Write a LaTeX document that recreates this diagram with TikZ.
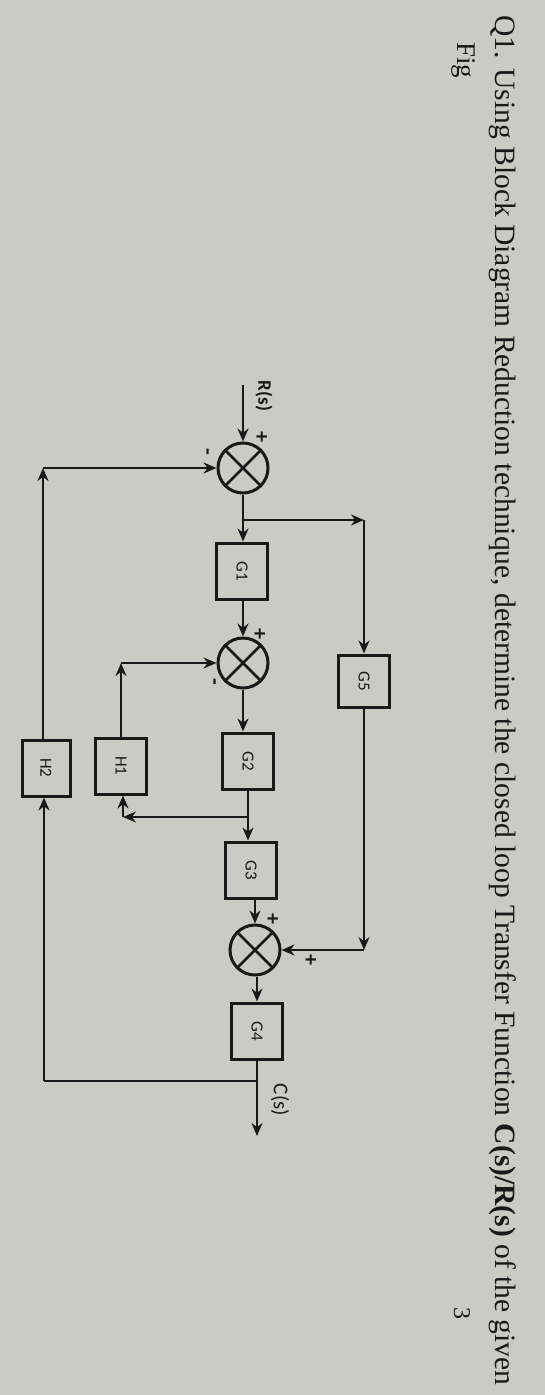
\documentclass[tikz,border=0pt]{standalone}
\usepackage{fontspec}
\setmainfont{Liberation Serif}
\newfontfamily\lblfont{Carlito}
\usetikzlibrary{arrows.meta}
\definecolor{paper}{RGB}{203,203,198}
\definecolor{ink}{RGB}{25,25,25}
\newcommand\rotlbl[1]{\rotatebox[origin=c]{-90}{#1}}
\begin{document}
\begin{tikzpicture}[x=1pt,y=-1pt,
  blk/.style={draw=ink,line width=3pt,minimum width=51pt,minimum height=56pt,inner sep=0pt,font=\lblfont\fontsize{17}{17}\selectfont,text=ink},
  sumj/.style={draw=ink,circle,line width=3pt,minimum size=50pt,inner sep=0pt},
  conn/.style={draw=ink,line width=2.8pt},
  arr/.style={conn,-{Stealth[length=13pt,width=11pt]}},
  sgn/.style={font=\lblfont\bfseries\fontsize{22}{22}\selectfont,text=ink,inner sep=0pt},
  sig/.style={font=\lblfont\bfseries\fontsize{19}{19}\selectfont,text=ink,inner sep=0pt},
  qtext/.style={rotate=-90,anchor=base west,inner sep=0pt,text=ink}]
\fill[paper] (0,0) rectangle (545,1395);
\useasboundingbox (0,0) rectangle (545,1395);
% question text
\node[qtext] (q) at (495,15) {\resizebox{1370pt}{!}{Q1. Using Block Diagram Reduction technique, determine the closed loop Transfer Function \textbf{C(s)/R(s)} of the given}};
\node[qtext] (fig) at (457,42) {\fontsize{27}{27}\selectfont Fig};
\node[rotate=-90,inner sep=0pt,text=ink] (three) at (462,1313) {\fontsize{24}{24}\selectfont 3};
% blocks
\node[sumj] (s1) at (243,468) {};
\node[blk] (G1) at (242,571) {\rotlbl{G1}};
\node[sumj] (s2) at (243,663) {};
\node[blk] (G2) at (248,761) {\rotlbl{G2}};
\node[blk] (G3) at (251,870) {\rotlbl{G3}};
\node[sumj] (s3) at (255,950) {};
\node[blk] (G4) at (257,1031) {\rotlbl{G4}};
\node[blk,minimum height=52pt] (G5) at (364,681) {\rotlbl{G5}};
\node[blk] (H1) at (121,766) {\rotlbl{H1}};
\node[blk,minimum width=48pt] (H2) at (46,768) {\rotlbl{H2}};
\foreach \s in {s1,s2,s3} {
  \draw[conn] (\s.north west) -- (\s.south east);
  \draw[conn] (\s.north east) -- (\s.south west);
}
% signs
\node[sgn] (p1) at (261,437) {\rotlbl{+}};
\node[sgn] (m1) at (205,452) {\rotlbl{-}};
\node[sgn] (p2) at (259,634) {\rotlbl{+}};
\node[sgn] (m2) at (212,682) {\rotlbl{-}};
\node[sgn] (p3) at (272,919) {\rotlbl{+}};
\node[sgn] (p4) at (310,960) {\rotlbl{+}};
% signal labels
\node[sig] (Rl) at (264,396) {\rotlbl{R(s)}};
\node[sig,font=\lblfont\fontsize{21}{21}\selectfont] (Cl) at (280,1100) {\rotlbl{C(s)}};
% coordinates
\coordinate (rin) at (243,385);
\coordinate (b1) at (243,520);
\coordinate (c5) at (364,520);
\coordinate (c5b) at (364,950);
\coordinate (b2) at (248,817);
\coordinate (ch1b) at (123,817);
\coordinate (ch1t) at (121,663);
\coordinate (b3) at (257,1081);
\coordinate (cout) at (257,1136);
\coordinate (ch2b) at (44,1081);
\coordinate (ch2t) at (43,468);
% connectors
\draw[arr] (rin) -- (s1.north);
\draw[arr] (s1.south) -- (s1.south |- G1.north);
\draw[arr] (b1) -- (c5);
\draw[arr] (c5) -- (G5.north);
\draw[arr] (G1.south -| s2.north) -- (s2.north);
\draw[arr] (s2.south) -- (s2.south |- G2.north);
\draw[arr] (G2.south) -- (G2.south |- G3.north);
\draw[arr] (b2) -- (ch1b);
\draw[arr] (ch1b) -- (ch1b |- H1.south);
\draw[arr] (H1.north) -- (ch1t);
\draw[arr] (ch1t) -- (s2.west);
\draw[arr] (G3.south -| s3.north) -- (s3.north);
\draw[arr] (G5.south) -- (c5b);
\draw[arr] (c5b) -- (s3.east);
\draw[arr] (s3.south -| G4.north) -- (G4.north);
\draw[arr] (G4.south) -- (cout);
\draw[conn] (b3) -- (ch2b);
\draw[arr] (ch2b) -- (ch2b |- H2.south);
\draw[arr] (H2.north -| ch2t) -- (ch2t);
\draw[arr] (ch2t) -- (s1.west);
\end{tikzpicture}
\end{document}
